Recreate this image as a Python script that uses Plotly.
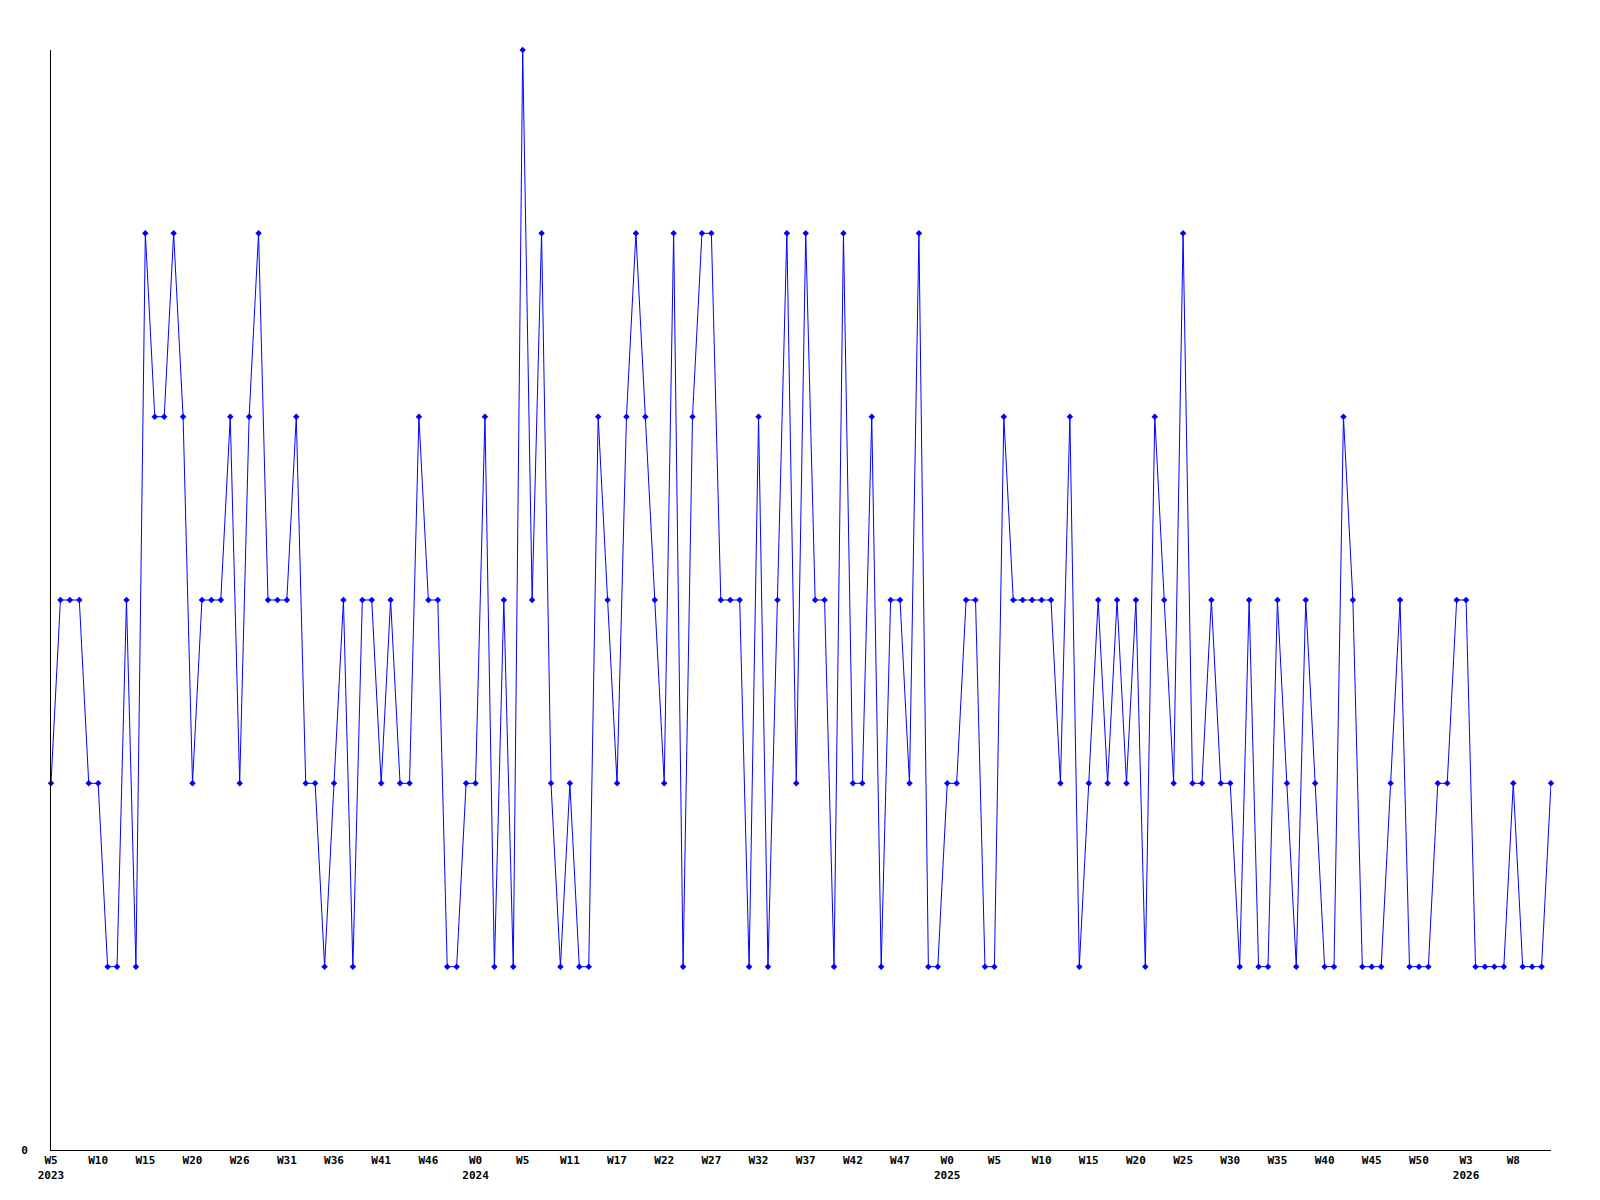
import plotly.graph_objects as go

# weekly counts, one value per week, starting W5 2023
counts = [
    2, 3, 3, 3, 2, 2, 1, 1, 3, 1,
    5, 4, 4, 5, 4, 2, 3, 3, 3, 4,
    2, 4, 5, 3, 3, 3, 4, 2, 2, 1,
    2, 3, 1, 3, 3, 2, 3, 2, 2, 4,
    3, 3, 1, 1, 2, 2, 4, 1, 3, 1,
    6, 3, 5, 2, 1, 2, 1, 1, 4, 3,
    2, 4, 5, 4, 3, 2, 5, 1, 4, 5,
    5, 3, 3, 3, 1, 4, 1, 3, 5, 2,
    5, 3, 3, 1, 5, 2, 2, 4, 1, 3,
    3, 2, 5, 1, 1, 2, 2, 3, 3, 1,
    1, 4, 3, 3, 3, 3, 3, 2, 4, 1,
    2, 3, 2, 3, 2, 3, 1, 4, 3, 2,
    5, 2, 2, 3, 2, 2, 1, 3, 1, 1,
    3, 2, 1, 3, 2, 1, 1, 4, 3, 1,
    1, 1, 2, 3, 1, 1, 1, 2, 2, 3,
    3, 1, 1, 1, 1, 2, 1, 1, 1, 2,
]

# a label every 5th week, as printed under the axis
tick_labels = [
    "W5<br>2023", "W10", "W15", "W20", "W26", "W31", "W36", "W41", "W46",
    "W0<br>2024", "W5", "W11", "W17", "W22", "W27", "W32", "W37", "W42", "W47",
    "W0<br>2025", "W5", "W10", "W15", "W20", "W25", "W30", "W35", "W40", "W45", "W50",
    "W3<br>2026", "W8",
]
tick_step = 5

_FONT = "DejaVu Sans Mono, Liberation Mono, monospace"

weeks = list(range(len(counts)))

fig = go.Figure()
fig.add_trace(go.Scatter(
    x=weeks,
    y=counts,
    mode="lines+markers",
    line=dict(color="#0000ff", width=1),
    marker=dict(symbol="diamond", size=5, color="#0000ff"),
    cliponaxis=False,
    showlegend=False,
))

fig.update_layout(
    width=1600,
    height=1200,
    paper_bgcolor="white",
    plot_bgcolor="white",
    font=dict(family=_FONT, size=11, color="black", weight=700),
    margin=dict(l=43, r=57, t=42, b=58),
    xaxis=dict(
        range=[0, len(counts) - 1],
        tickmode="array",
        tickvals=[i * tick_step for i in range(len(tick_labels))],
        ticktext=tick_labels,
        showgrid=False,
        zeroline=False,
        showline=True,
        linecolor="black",
        linewidth=1,
        ticks="",
        tickangle=0,
    ),
    yaxis=dict(
        range=[0, 6],
        tickmode="array",
        tickvals=[0],
        ticktext=["0"],
        showgrid=False,
        zeroline=False,
        showline=True,
        linecolor="black",
        linewidth=1,
        ticks="",
        ticklabelstandoff=20,
    ),
)

fig.write_html("out.html")
